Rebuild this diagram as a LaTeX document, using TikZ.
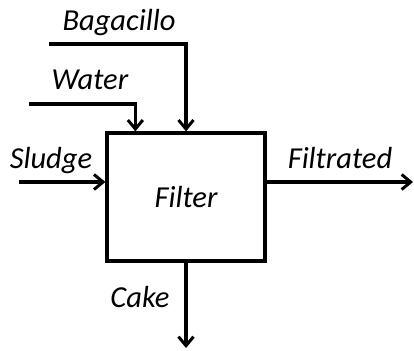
\documentclass[tikz,border=0pt]{standalone}
\usepackage{fontspec}
\setmainfont{Carlito}
\usetikzlibrary{arrows.meta,positioning}

\tikzset{
  stream/.style={-{Straight Barb[length=9pt,width=15pt,line width=3pt]}},
  lbl/.style={font=\fontsize{30.5}{32}\selectfont\itshape, anchor=base, inner sep=0pt},
}

\begin{document}
\begin{tikzpicture}[x=1pt,y=-1pt,line width=3.3pt]
  \useasboundingbox (0,0) rectangle (414,350);

  % the filter unit
  \node[draw, minimum width=158pt, minimum height=128pt, inner sep=0pt] (filter) at (186,197) {};
  \node[lbl] (filterlbl) at (186,207) {Filter};

  % free ends of the streams
  \coordinate (bagin) at (49,44);
  \coordinate (waterin) at (29,104);
  \coordinate (sludgein) at (19,182);
  \coordinate (filtout) at (413,182);
  \coordinate (cakeout) at (186,348);
  \coordinate (watertop) at ([xshift=30pt]filter.north west);

  % streams in and out
  \draw[stream] (bagin) -| (filter.north);
  \draw[stream] (waterin) -| (watertop);
  \draw[stream] (sludgein) -- (sludgein -| filter.west);
  \draw[stream] (sludgein -| filter.east) -- (filtout);
  \draw[stream] (filter.south) -- (cakeout);

  % stream names
  \node[lbl] (baglbl) at (119,31) {Bagacillo};
  \node[lbl] (waterlbl) at (90,90) {Water};
  \node[lbl] (sludgelbl) at (51,168) {Sludge};
  \node[lbl] (filtlbl) at (340,168) {Filtrated};
  \node[lbl] (cakelbl) at (140,307) {Cake};
\end{tikzpicture}
\end{document}
